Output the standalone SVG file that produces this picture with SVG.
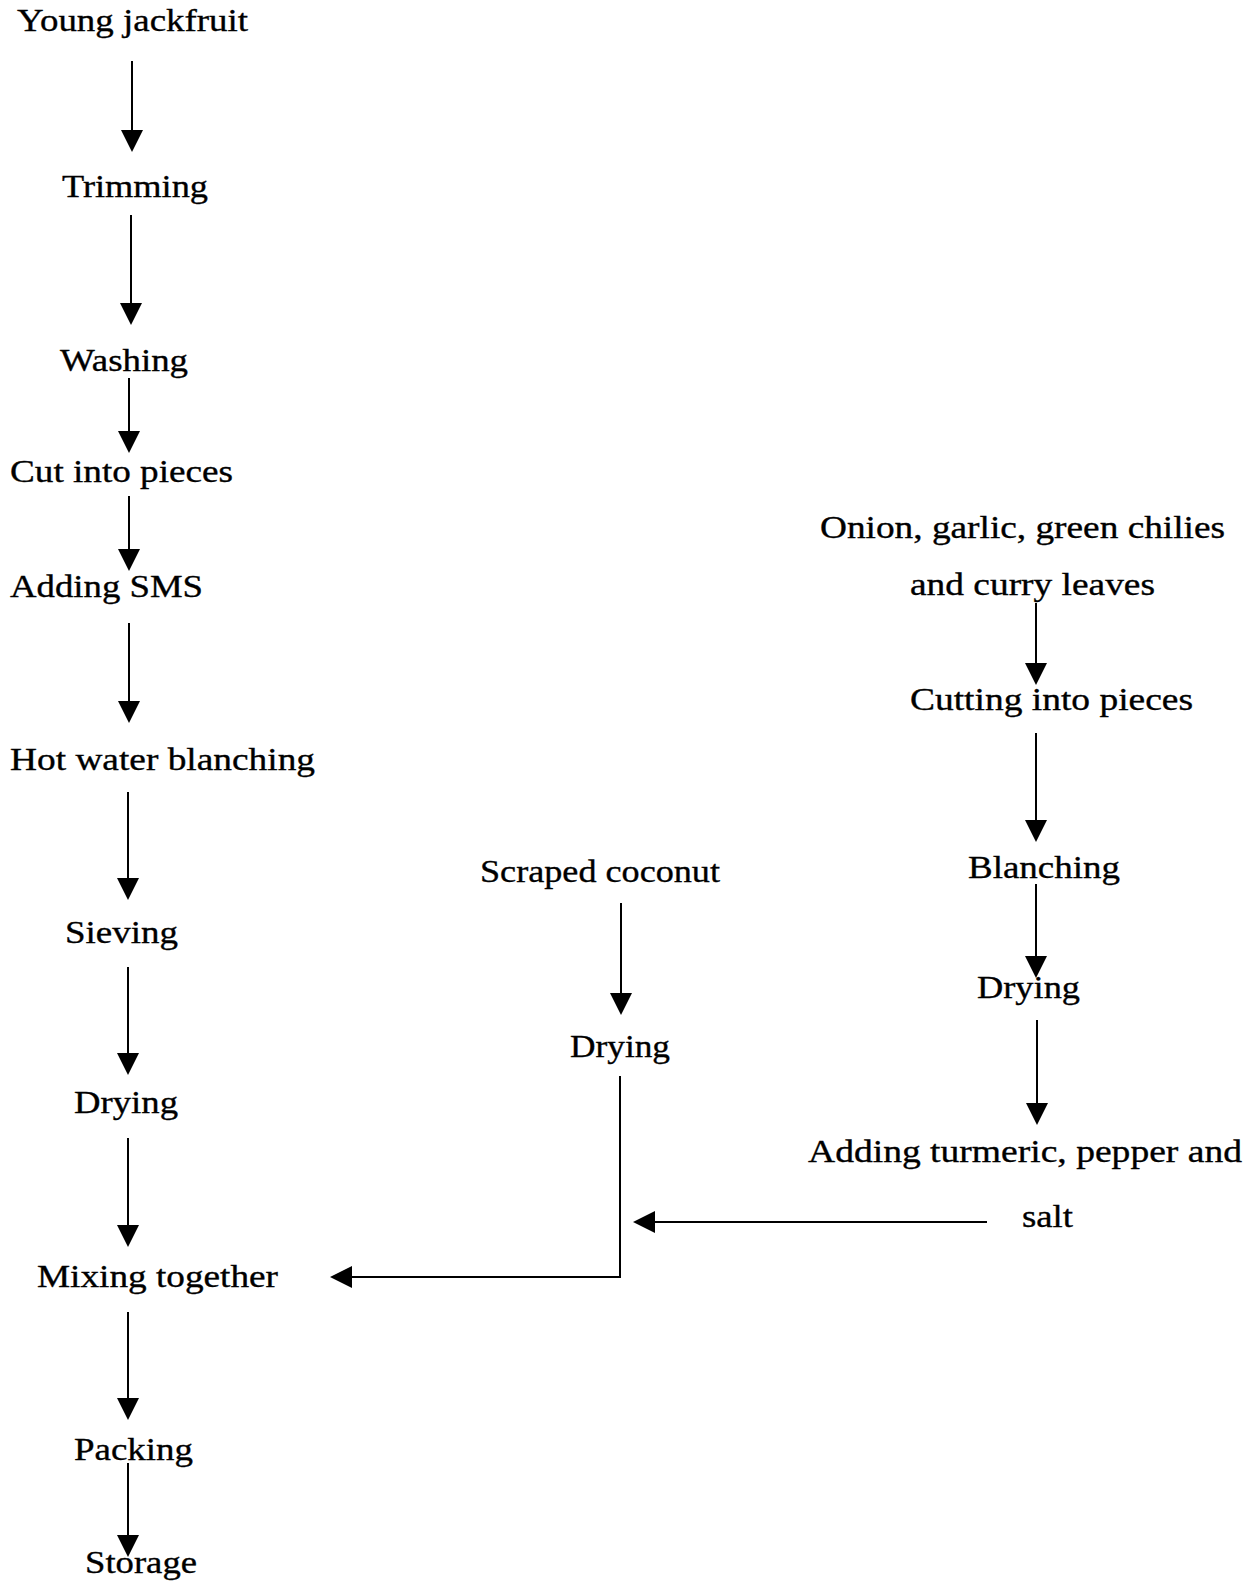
<svg xmlns="http://www.w3.org/2000/svg" width="1252" height="1585" viewBox="0 0 1252 1585">
<style>
text { font-family: "Liberation Serif", "Times New Roman", serif; font-size: 32px; fill: #000; stroke: #000; stroke-width: 0.35; }
.c { stroke: #000; stroke-width: 2; fill: none; }
</style>
<defs>
<marker id="ah" markerUnits="userSpaceOnUse" markerWidth="24" markerHeight="24" refX="12" refY="11" orient="auto">
<path d="M0,0 L22,11 L0,22 z" fill="#000"/>
</marker>
</defs>
<rect width="1252" height="1585" fill="#fff"/>
<g id="connectors">
<line class="c" x1="132" y1="61" x2="132" y2="142" marker-end="url(#ah)"/>
<line class="c" x1="131" y1="215" x2="131" y2="315" marker-end="url(#ah)"/>
<line class="c" x1="129" y1="378" x2="129" y2="443" marker-end="url(#ah)"/>
<line class="c" x1="129" y1="496" x2="129" y2="561" marker-end="url(#ah)"/>
<line class="c" x1="129" y1="623" x2="129" y2="713" marker-end="url(#ah)"/>
<line class="c" x1="128" y1="792" x2="128" y2="890" marker-end="url(#ah)"/>
<line class="c" x1="128" y1="967" x2="128" y2="1065" marker-end="url(#ah)"/>
<line class="c" x1="128" y1="1138" x2="128" y2="1237" marker-end="url(#ah)"/>
<line class="c" x1="128" y1="1312" x2="128" y2="1410" marker-end="url(#ah)"/>
<line class="c" x1="128" y1="1463" x2="128" y2="1547" marker-end="url(#ah)"/>
<line class="c" x1="1036" y1="603" x2="1036" y2="675" marker-end="url(#ah)"/>
<line class="c" x1="1036" y1="733" x2="1036" y2="832" marker-end="url(#ah)"/>
<line class="c" x1="1036" y1="884" x2="1036" y2="968" marker-end="url(#ah)"/>
<line class="c" x1="1037" y1="1020" x2="1037" y2="1115" marker-end="url(#ah)"/>
<line class="c" x1="621" y1="903" x2="621" y2="1005" marker-end="url(#ah)"/>
<polyline class="c" points="620,1076 620,1277 340,1277" marker-end="url(#ah)"/>
<line class="c" x1="987" y1="1222" x2="643" y2="1222" marker-end="url(#ah)"/>
</g>
<g id="n-young"><text x="17" y="31" textLength="231" lengthAdjust="spacingAndGlyphs">Young jackfruit</text></g>
<g id="n-trimming"><text x="62" y="197" textLength="146" lengthAdjust="spacingAndGlyphs">Trimming</text></g>
<g id="n-washing"><text x="60" y="371" textLength="128" lengthAdjust="spacingAndGlyphs">Washing</text></g>
<g id="n-cut"><text x="10" y="482" textLength="223" lengthAdjust="spacingAndGlyphs">Cut into pieces</text></g>
<g id="n-sms"><text x="10" y="597" textLength="193" lengthAdjust="spacingAndGlyphs">Adding SMS</text></g>
<g id="n-hot"><text x="10" y="770" textLength="305" lengthAdjust="spacingAndGlyphs">Hot water blanching</text></g>
<g id="n-sieving"><text x="65" y="943" textLength="113" lengthAdjust="spacingAndGlyphs">Sieving</text></g>
<g id="n-drying1"><text x="74" y="1113" textLength="104" lengthAdjust="spacingAndGlyphs">Drying</text></g>
<g id="n-mixing"><text x="37" y="1287" textLength="241" lengthAdjust="spacingAndGlyphs">Mixing together</text></g>
<g id="n-packing"><text x="74" y="1460" textLength="119" lengthAdjust="spacingAndGlyphs">Packing</text></g>
<g id="n-storage"><text x="85" y="1573" textLength="112" lengthAdjust="spacingAndGlyphs">Storage</text></g>
<g id="n-onion">
<text x="820" y="538" textLength="405" lengthAdjust="spacingAndGlyphs">Onion, garlic, green chilies</text>
<text x="910" y="595" textLength="245" lengthAdjust="spacingAndGlyphs">and curry leaves</text>
</g>
<g id="n-cutting"><text x="910" y="710" textLength="283" lengthAdjust="spacingAndGlyphs">Cutting into pieces</text></g>
<g id="n-blanching"><text x="968" y="878" textLength="152" lengthAdjust="spacingAndGlyphs">Blanching</text></g>
<g id="n-drying3"><text x="977" y="998" textLength="103" lengthAdjust="spacingAndGlyphs">Drying</text></g>
<g id="n-turmeric">
<text x="808" y="1162" textLength="434" lengthAdjust="spacingAndGlyphs">Adding turmeric, pepper and</text>
<text x="1022" y="1227" textLength="51" lengthAdjust="spacingAndGlyphs">salt</text>
</g>
<g id="n-coconut"><text x="480" y="882" textLength="240" lengthAdjust="spacingAndGlyphs">Scraped coconut</text></g>
<g id="n-drying2"><text x="570" y="1057" textLength="100" lengthAdjust="spacingAndGlyphs">Drying</text></g>
</svg>
